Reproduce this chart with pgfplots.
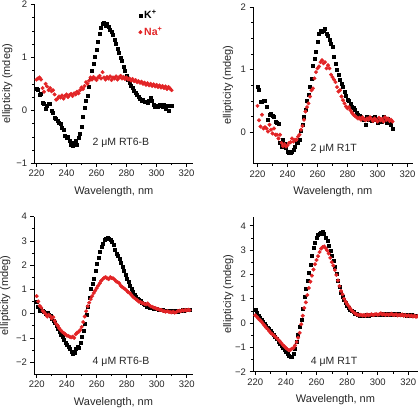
\documentclass[border=0pt]{standalone}
\usepackage{fontspec}
\setmainfont{Liberation Sans}
\usepackage{pgfplots}
\pgfplotsset{compat=1.18}
\usepackage{pgfplotstable}
\definecolor{nared}{RGB}{226,36,38}

\pgfplotstableread{
x K Na
220 0.40 0.58
221 0.38 0.60
222 0.30 0.62
223 0.31 0.58
224 0.14 0.42
225 0.12 0.35
226 0.03 0.50
227 0.08 0.45
228 0.13 0.38
229 0.12 0.42
230 0.00 0.36
231 -0.05 0.38
232 -0.14 0.30
233 -0.16 0.20
234 -0.19 0.22
235 -0.24 0.26
236 -0.26 0.24
237 -0.33 0.28
238 -0.36 0.22
239 -0.47 0.27
240 -0.52 0.30
241 -0.50 0.25
242 -0.58 0.29
243 -0.64 0.31
244 -0.67 0.27
245 -0.62 0.32
246 -0.58 0.30
247 -0.65 0.35
248 -0.52 0.32
249 -0.45 0.38
250 -0.31 0.43
251 -0.12 0.40
252 0.05 0.46
253 0.18 0.53
254 0.28 0.50
255 0.45 0.56
256 0.60 0.62
257 0.75 0.58
258 0.88 0.63
259 1.02 0.60
260 1.15 0.57
261 1.30 0.62
262 1.45 0.65
263 1.55 0.60
264 1.63 0.72
265 1.66 0.62
266 1.60 0.58
267 1.63 0.63
268 1.58 0.60
269 1.52 0.64
270 1.48 0.57
271 1.42 0.62
272 1.33 0.60
273 1.26 0.64
274 1.16 0.58
275 1.08 0.62
276 1.00 0.65
277 0.93 0.60
278 0.82 0.63
279 0.75 0.59
280 0.66 0.62
281 0.58 0.58
282 0.52 0.60
283 0.47 0.56
284 0.42 0.59
285 0.37 0.55
286 0.33 0.57
287 0.30 0.53
288 0.25 0.55
289 0.22 0.52
290 0.18 0.54
291 0.20 0.50
292 0.16 0.52
293 0.17 0.48
294 0.15 0.51
295 0.18 0.47
296 0.24 0.50
297 0.18 0.46
298 0.11 0.49
299 0.06 0.45
300 0.08 0.48
301 0.07 0.44
302 0.10 0.47
303 0.08 0.43
304 0.06 0.46
305 0.11 0.42
306 0.03 0.45
307 0.09 0.40
308 0.00 0.44
309 0.09 0.41
310 0.08 0.38
}\tA

\pgfplotstableread{
x K Na
220 0.72 0.42
221 0.68 0.19
222 0.49 0.09
223 0.48 0.28
224 0.50 0.06
225 0.51 0.08
226 0.41 0.06
227 0.20 0.01
228 0.28 0.12
229 0.30 0.04
230 0.27 -0.02
231 0.25 0.06
232 0.17 -0.04
233 0.15 -0.04
234 0.14 -0.10
235 -0.17 -0.04
236 -0.23 -0.17
237 -0.12 -0.22
238 -0.19 -0.19
239 -0.25 -0.23
240 -0.31 -0.21
241 -0.33 -0.17
242 -0.32 -0.16
243 -0.31 -0.10
244 -0.28 -0.15
245 -0.23 -0.12
246 -0.17 -0.12
247 -0.17 -0.07
248 -0.12 -0.04
249 0.03 0.04
250 0.12 0.10
251 0.25 0.20
252 0.36 0.33
253 0.50 0.40
254 0.60 0.46
255 0.72 0.57
256 0.86 0.67
257 1.07 0.70
258 1.18 0.86
259 1.28 0.96
260 1.45 1.02
261 1.58 1.05
262 1.62 1.12
263 1.61 1.15
264 1.62 1.10
265 1.65 1.12
266 1.58 1.02
267 1.54 1.07
268 1.47 1.02
269 1.42 0.92
270 1.36 0.88
271 1.20 0.84
272 1.10 0.80
273 1.00 0.72
274 0.92 0.65
275 0.84 0.67
276 0.78 0.57
277 0.72 0.51
278 0.64 0.46
279 0.58 0.41
280 0.52 0.38
281 0.50 0.40
282 0.46 0.35
283 0.41 0.31
284 0.39 0.28
285 0.36 0.26
286 0.31 0.24
287 0.28 0.22
288 0.26 0.23
289 0.24 0.20
290 0.22 0.24
291 0.20 0.21
292 0.12 0.19
293 0.25 0.22
294 0.20 0.20
295 0.22 0.24
296 0.18 0.21
297 0.23 0.18
298 0.25 0.22
299 0.20 0.20
300 0.15 0.17
301 0.22 0.23
302 0.18 0.19
303 0.17 0.21
304 0.25 0.17
305 0.20 0.24
306 0.15 0.20
307 0.22 0.22
308 0.18 0.18
309 0.12 0.20
310 0.06 0.17
}\tB

\pgfplotstableread{
x K Na
220 0.48 0.72
221 0.30 0.50
222 0.14 0.32
223 0.18 0.25
224 0.14 0.12
225 0.08 0.05
226 0.00 -0.02
227 0.02 -0.12
228 -0.05 -0.05
229 -0.10 -0.10
230 -0.20 -0.20
231 -0.28 -0.15
232 -0.38 -0.30
233 -0.50 -0.42
234 -0.62 -0.50
235 -0.75 -0.60
236 -0.88 -0.68
237 -0.97 -0.75
238 -1.08 -0.80
239 -1.20 -0.85
240 -1.28 -0.90
241 -1.38 -0.92
242 -1.45 -0.95
243 -1.55 -0.98
244 -1.65 -0.95
245 -1.60 -1.00
246 -1.45 -0.85
247 -1.38 -0.78
248 -1.40 -0.75
249 -1.20 -0.68
250 -0.97 -0.55
251 -0.70 -0.35
252 -0.41 -0.12
253 -0.05 0.10
254 0.28 0.30
255 0.65 0.45
256 1.03 0.60
257 1.25 0.72
258 1.45 0.85
259 1.75 0.95
260 2.07 1.05
261 2.30 1.15
262 2.55 1.25
263 2.75 1.35
264 2.90 1.42
265 3.05 1.48
266 3.10 1.50
267 3.14 1.45
268 3.10 1.42
269 3.03 1.50
270 2.95 1.47
271 2.83 1.45
272 2.65 1.40
273 2.48 1.32
274 2.40 1.30
275 2.28 1.25
276 2.10 1.15
277 1.93 1.10
278 1.75 1.05
279 1.59 1.00
280 1.45 0.95
281 1.31 0.88
282 1.17 0.85
283 1.03 0.78
284 0.90 0.70
285 0.76 0.65
286 0.70 0.60
287 0.62 0.55
288 0.57 0.50
289 0.52 0.48
290 0.46 0.45
291 0.41 0.42
292 0.35 0.40
293 0.28 0.38
294 0.32 0.42
295 0.26 0.35
296 0.24 0.30
297 0.25 0.28
298 0.22 0.25
299 0.20 0.23
300 0.19 0.20
301 0.17 0.18
302 0.18 0.16
303 0.15 0.15
304 0.17 0.12
305 0.14 0.10
306 0.13 0.08
307 0.14 0.10
308 0.12 0.08
309 0.10 0.06
310 0.11 0.05
311 0.09 0.08
312 0.10 0.04
313 0.11 0.06
314 0.06 0.10
315 0.12 0.12
316 0.14 0.10
317 0.15 0.14
318 0.14 0.12
319 0.16 0.15
320 0.17 0.13
321 0.15 0.16
322 0.16 0.14
}\tC

\pgfplotstableread{
x K Na
220 0.54 0.32
221 0.42 0.26
222 0.30 0.18
223 0.20 0.12
224 0.12 0.06
225 0.05 -0.02
226 -0.02 -0.10
227 -0.10 -0.18
228 -0.18 -0.24
229 -0.24 -0.32
230 -0.30 -0.40
231 -0.40 -0.45
232 -0.48 -0.50
233 -0.58 -0.56
234 -0.66 -0.62
235 -0.76 -0.68
236 -0.86 -0.75
237 -0.95 -0.82
238 -1.02 -0.90
239 -1.10 -0.96
240 -1.18 -1.02
241 -1.26 -1.08
242 -1.35 -1.12
243 -1.40 -1.10
244 -1.38 -1.05
245 -1.25 -1.02
246 -1.05 -0.92
247 -0.78 -0.78
248 -0.48 -0.60
249 -0.15 -0.40
250 0.15 -0.05
251 0.60 0.30
252 1.10 0.62
253 1.40 0.85
254 1.75 1.15
255 2.05 1.44
256 2.40 1.70
257 2.75 1.95
258 3.08 2.20
259 3.32 2.42
260 3.52 2.59
261 3.62 2.75
262 3.68 2.92
263 3.70 3.06
264 3.74 3.12
265 3.68 3.15
266 3.52 3.08
267 3.40 2.98
268 3.18 2.86
269 2.98 2.68
270 2.78 2.50
271 2.56 2.36
272 2.30 2.18
273 2.02 1.98
274 1.74 1.75
275 1.48 1.52
276 1.25 1.32
277 1.08 1.18
278 0.95 1.00
279 0.84 0.88
280 0.72 0.78
281 0.63 0.70
282 0.56 0.60
283 0.50 0.52
284 0.45 0.46
285 0.40 0.40
286 0.37 0.36
287 0.34 0.34
288 0.32 0.32
289 0.31 0.34
290 0.30 0.31
291 0.32 0.33
292 0.31 0.30
293 0.33 0.35
294 0.32 0.32
295 0.34 0.34
296 0.33 0.36
297 0.35 0.33
298 0.34 0.35
299 0.36 0.37
300 0.35 0.34
301 0.36 0.36
302 0.34 0.40
303 0.37 0.35
304 0.36 0.37
305 0.35 0.33
306 0.37 0.36
307 0.36 0.34
308 0.38 0.35
309 0.36 0.38
310 0.37 0.34
311 0.38 0.33
312 0.36 0.36
313 0.35 0.31
314 0.37 0.34
315 0.34 0.32
316 0.36 0.35
317 0.33 0.30
318 0.35 0.33
319 0.32 0.29
320 0.34 0.32
321 0.31 0.28
322 0.33 0.31
323 0.30 0.27
324 0.32 0.30
325 0.29 0.26
326 0.30 0.28
}\tD

\pgfplotsset{
  cdstyle/.style={
    scale only axis,
    axis x line*=bottom, axis y line*=left,
    axis line style={-, line width=0.6pt},
    tick align=outside,
    major tick length=3.5pt, minor tick length=2pt,
    every tick/.style={black, line width=0.5pt},
    xtick={220,240,260,280,300,320},
    xticklabels={220,240,260,280,300,320},
    minor x tick num=1,
    minor y tick num=3,
    tick label style={font=\fontsize{9.5}{10}\selectfont, text=black!85},
    label style={font=\fontsize{11}{12}\selectfont, text=black!85},
    xlabel={Wavelength, nm},
    ylabel={ellipticity (mdeg)},
    xlabel style={at={(axis description cs:0.5,0)}, anchor=center, yshift=-28pt},
    clip=false,
  },
  kser/.style={only marks, mark=square*, mark size=1.5pt, black, mark options={draw=black, fill=black}},
  naser/.style={only marks, mark=*, mark size=1.8pt, nared, mark options={draw=nared, fill=nared}},
}

\begin{document}
\begin{tikzpicture}[x=1pt,y=1pt]
\path[use as bounding box] (0,0) rectangle (418,408);

% Panel 1
\begin{axis}[cdstyle, at={(34.3pt,244.7pt)}, anchor=south west,
  width=159pt, height=159pt,
  xmin=218.5, xmax=324.5, ymin=-1, ymax=2,
  ytick={-1,0,1,2}, yticklabels={−1,0,1,2},
  ylabel style={at={(axis description cs:-0.17,0.5)}, anchor=center},
  legend style={draw=none, fill=none, at={(0.655,0.975)}, anchor=north west,
    inner sep=0pt, row sep=3pt, font=\fontsize{10.5}{11}\selectfont\bfseries},
  legend cell align=left,
  legend image code/.code={\draw[mark repeat=2,mark phase=2,#1] plot coordinates {(0pt,0pt)(4pt,0pt)(8pt,0pt)};},
  ]
\addplot[kser] table[x=x,y=K] {\tA};
\addlegendentry{\textcolor{black}{K\textsuperscript{+}}}
\addplot[naser] table[x=x,y=Na] {\tA};
\addlegendentry{\textcolor{nared}{Na\textsuperscript{+}}}
\node[anchor=west, font=\fontsize{10.5}{11}\selectfont, text=black!85] at (axis cs:255,-0.62) {2 μM RT6-B};
\end{axis}

% Panel 2
\begin{axis}[cdstyle, at={(253pt,244.5pt)}, anchor=south west,
  width=159.75pt, height=156.5pt,
  xmin=217, xmax=323.5, ymin=-0.5, ymax=2,
  ytick={0,1,2}, yticklabels={0,1,2},
  ylabel style={at={(axis description cs:-0.157,0.5)}, anchor=center},
  ]
\addplot[kser] table[x=x,y=K] {\tB};
\addplot[naser] table[x=x,y=Na] {\tB};
\node[anchor=west, font=\fontsize{10.5}{11}\selectfont, text=black!85] at (axis cs:253,-0.26) {2 μM R1T};
\end{axis}

% Panel 3
\begin{axis}[cdstyle, at={(34pt,33.7pt)}, anchor=south west,
  width=159pt, height=157.8pt,
  xmin=218.2, xmax=324.2, ymin=-2.5, ymax=4,
  ytick={-2,-1,0,1,2,3,4}, yticklabels={−2,−1,0,1,2,3,4},
  minor y tick num=1,
  ylabel style={at={(axis description cs:-0.18,0.5)}, anchor=center},
  ]
\addplot[kser] table[x=x,y=K] {\tC};
\addplot[naser] table[x=x,y=Na] {\tC};
\node[anchor=west, font=\fontsize{10.5}{11}\selectfont, text=black!85] at (axis cs:255,-2.0) {4 μM RT6-B};
\end{axis}

% Panel 4
\begin{axis}[cdstyle, at={(253pt,36.3pt)}, anchor=south west,
  width=165pt, height=155.2pt,
  xmin=218.5, xmax=326.3, ymin=-2, ymax=4.38,
  ytick={-2,-1,0,1,2,3,4}, yticklabels={−2,−1,0,1,2,3,4},
  minor y tick num=1,
  ylabel style={at={(axis description cs:-0.15,0.5)}, anchor=center},
  ]
\addplot[kser] table[x=x,y=K] {\tD};
\addplot[naser] table[x=x,y=Na] {\tD};
\node[anchor=west, font=\fontsize{10.5}{11}\selectfont, text=black!85] at (axis cs:254,-1.58) {4 μM R1T};
\end{axis}
\end{tikzpicture}
\end{document}
